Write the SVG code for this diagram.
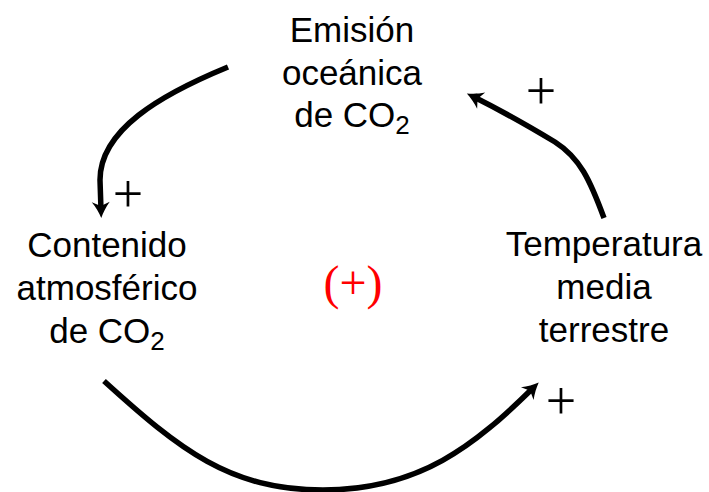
<svg xmlns="http://www.w3.org/2000/svg" width="709" height="492" viewBox="0 0 709 492">
<style>
.lbl{font-family:"Liberation Sans","DejaVu Sans",sans-serif;font-size:35px;fill:#000;text-anchor:middle}
.sub{font-size:26px}
.plus{font-family:"Liberation Serif","DejaVu Serif",serif;font-size:54px;fill:#000;text-anchor:middle}
.sign{font-family:"Liberation Serif","DejaVu Serif",serif;font-size:48px;fill:#ff0000;text-anchor:middle}
.arr{fill:none;stroke:#000;stroke-width:5.5;marker-end:url(#ah)}
</style>
<defs>
<marker id="ah" markerUnits="userSpaceOnUse" viewBox="-20 -11 24 22" refX="-8" refY="0" markerWidth="24" markerHeight="22" orient="auto" overflow="visible">
<path d="M0,0 C-5,-2 -11,-5 -16,-9 L-12,0 L-16,9 C-11,5 -5,2 0,0 Z" fill="#000"/>
</marker>
</defs>
<rect width="709" height="492" fill="#fff"/>
<g id="emision">
<text class="lbl" x="352" y="42">Emisión</text>
<text class="lbl" x="352" y="85">oceánica</text>
<text class="lbl" x="352" y="127">de CO<tspan class="sub" dy="7">2</tspan></text>
</g>
<g id="contenido">
<text class="lbl" x="107" y="257">Contenido</text>
<text class="lbl" x="107" y="300">atmosférico</text>
<text class="lbl" x="107" y="343">de CO<tspan class="sub" dy="7">2</tspan></text>
</g>
<g id="temperatura">
<text class="lbl" x="604" y="256">Temperatura</text>
<text class="lbl" x="604" y="299">media</text>
<text class="lbl" x="604" y="342">terrestre</text>
</g>
<g id="loop-sign">
<text class="sign" x="353" y="299">(+)</text>
</g>
<g id="connectors">
<path class="arr" d="M228,67 C160,95 100,130 100,180 L101,210"/>
<path class="arr" d="M604,218 C590,180 580,158 555,142 C530,127 500,110 474,97"/>
<path class="arr" d="M104,381 C180,450 230,490 323,490 C420,490 475,445 533,388"/>
<text class="plus" x="128" y="212">+</text>
<text class="plus" x="541" y="109">+</text>
<text class="plus" x="561" y="419">+</text>
</g>
</svg>
